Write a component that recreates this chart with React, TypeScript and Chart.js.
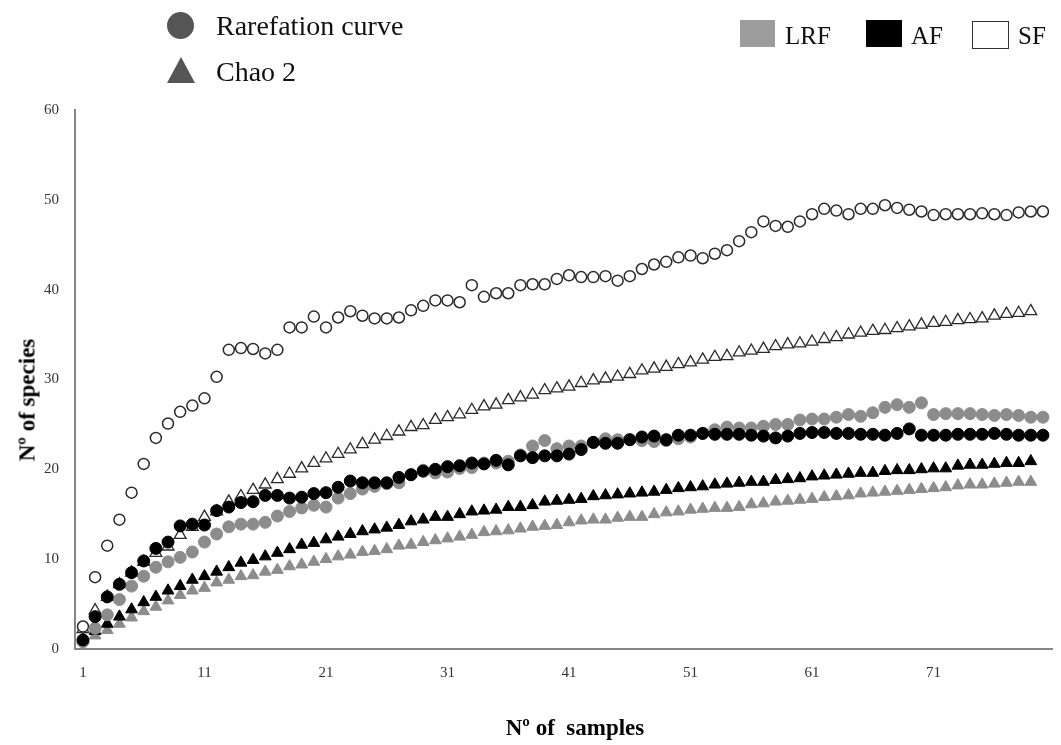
import React, { useEffect, useRef } from "react";
import { Chart, registerables } from "chart.js";

Chart.register(...registerables);

// Sample numbers are 1..80 (rarefaction) and 1..79 (Chao 2)
const xTickValues = [1, 11, 21, 31, 41, 51, 61, 71];
const yTickMax = 60;

const sfRare = [2.5, 8.0, 11.5, 14.4, 17.4, 20.6, 23.5, 25.1, 26.4, 27.1, 27.9, 30.3, 33.3, 33.5, 33.4, 32.9, 33.3, 35.8, 35.8, 37.0,
  35.8, 36.9, 37.6, 37.1, 36.8, 36.8, 36.9, 37.7, 38.2, 38.8, 38.8, 38.6, 40.5, 39.2, 39.6, 39.6, 40.5, 40.6, 40.6, 41.2,
  41.6, 41.4, 41.4, 41.5, 41.0, 41.5, 42.3, 42.8, 43.1, 43.6, 43.8, 43.5, 44.0, 44.4, 45.4, 46.4, 47.6, 47.1, 47.0, 47.6,
  48.4, 49.0, 48.8, 48.4, 49.0, 49.0, 49.4, 49.1, 48.9, 48.7, 48.3, 48.4, 48.4, 48.4, 48.5, 48.4, 48.3, 48.6, 48.7, 48.7];

const sfChao = [2.2, 4.3, 5.8, 7.2, 8.5, 9.7, 10.7, 11.4, 12.7, 13.6, 14.7, 15.3, 16.4, 17.0, 17.7, 18.3, 18.9, 19.5, 20.1, 20.7,
  21.2, 21.7, 22.2, 22.8, 23.3, 23.7, 24.2, 24.7, 24.9, 25.5, 25.8, 26.1, 26.6, 27.0, 27.2, 27.7, 28.0, 28.3, 28.8, 29.0,
  29.2, 29.6, 29.9, 30.1, 30.3, 30.6, 31.0, 31.2, 31.4, 31.7, 31.9, 32.2, 32.5, 32.6, 33.0, 33.2, 33.4, 33.7, 33.9, 34.0,
  34.2, 34.5, 34.7, 35.0, 35.2, 35.4, 35.5, 35.7, 35.9, 36.1, 36.3, 36.4, 36.6, 36.7, 36.8, 37.1, 37.3, 37.4, 37.6];

const afRare = [1.0, 3.6, 5.8, 7.2, 8.5, 9.8, 11.2, 11.9, 13.7, 13.9, 13.8, 15.4, 15.8, 16.3, 16.4, 17.1, 17.1, 16.8, 16.9, 17.3,
  17.4, 18.0, 18.7, 18.5, 18.5, 18.5, 19.1, 19.4, 19.8, 20.0, 20.3, 20.4, 20.7, 20.6, 21.0, 20.5, 21.5, 21.3, 21.5, 21.5,
  21.7, 22.2, 23.0, 22.9, 22.9, 23.3, 23.6, 23.7, 23.3, 23.8, 23.8, 24.0, 23.9, 23.9, 23.9, 23.8, 23.7, 23.5, 23.7, 24.0,
  24.1, 24.1, 24.0, 24.0, 23.9, 23.9, 23.8, 24.0, 24.5, 23.8, 23.8, 23.8, 23.9, 23.9, 23.9, 24.0, 23.9, 23.8, 23.8, 23.8];

const afChao = [1.0, 2.0, 2.8, 3.6, 4.4, 5.2, 5.8, 6.5, 7.0, 7.7, 8.1, 8.6, 9.1, 9.6, 9.9, 10.3, 10.7, 11.1, 11.6, 11.8,
  12.2, 12.5, 12.8, 13.1, 13.3, 13.5, 13.8, 14.2, 14.4, 14.7, 14.7, 15.0, 15.3, 15.4, 15.5, 15.8, 15.8, 16.0, 16.4, 16.5,
  16.6, 16.7, 17.0, 17.1, 17.2, 17.3, 17.4, 17.5, 17.7, 17.9, 18.0, 18.1, 18.3, 18.4, 18.5, 18.6, 18.6, 18.8, 18.9, 19.0,
  19.2, 19.3, 19.4, 19.5, 19.6, 19.6, 19.8, 19.9, 19.9, 20.0, 20.1, 20.1, 20.4, 20.5, 20.5, 20.6, 20.7, 20.7, 20.9];

const lrfRare = [0.8, 2.3, 3.8, 5.5, 7.0, 8.1, 9.1, 9.7, 10.2, 10.8, 11.9, 12.8, 13.6, 13.9, 13.9, 14.1, 14.8, 15.3, 15.7, 16.0,
  15.8, 16.8, 17.3, 17.8, 18.1, 18.4, 18.5, 19.4, 19.9, 19.6, 19.7, 20.1, 20.2, 20.7, 20.7, 20.9, 21.6, 22.6, 23.2, 22.3,
  22.6, 22.6, 23.0, 23.4, 23.3, 23.3, 23.2, 23.1, 23.2, 23.4, 23.6, 24.0, 24.4, 24.7, 24.6, 24.6, 24.8, 25.0, 25.0, 25.5,
  25.6, 25.6, 25.8, 26.1, 25.9, 26.3, 26.9, 27.2, 26.9, 27.4, 26.1, 26.2, 26.2, 26.2, 26.1, 26.0, 26.1, 26.0, 25.8, 25.8];

const lrfChao = [1.2, 1.5, 2.1, 2.8, 3.5, 4.2, 4.7, 5.4, 6.0, 6.5, 6.8, 7.4, 7.7, 8.1, 8.2, 8.6, 8.8, 9.2, 9.4, 9.7,
  10.0, 10.3, 10.5, 10.8, 10.9, 11.1, 11.5, 11.6, 11.9, 12.1, 12.3, 12.5, 12.7, 13.0, 13.1, 13.2, 13.4, 13.6, 13.7, 13.8,
  14.1, 14.3, 14.4, 14.4, 14.6, 14.7, 14.7, 15.0, 15.2, 15.3, 15.5, 15.6, 15.7, 15.7, 15.8, 16.1, 16.2, 16.4, 16.5, 16.6,
  16.7, 16.9, 17.0, 17.1, 17.3, 17.4, 17.5, 17.6, 17.7, 17.8, 17.9, 18.0, 18.2, 18.3, 18.3, 18.4, 18.5, 18.6, 18.6];

const GRAY = "#8c8c8c";
const BLACK = "#000000";
const OPEN_EDGE = "#2a2a2a";
const SERIF = '"Liberation Serif", "Times New Roman", serif';

const toPoints = (arr: number[]) => arr.map((v, i) => ({ x: i + 1, y: v }));

export default function App() {
  const canvasRef = useRef<HTMLCanvasElement | null>(null);

  useEffect(() => {
    const canvas = canvasRef.current;
    if (!canvas) return;
    const mk = (label: string, data: number[], style: string, fill: string, edge: string, radius: number, bw: number) => ({
      label,
      data: toPoints(data),
      showLine: false,
      pointStyle: style,
      pointRadius: radius,
      pointHoverRadius: radius,
      pointBackgroundColor: fill,
      pointBorderColor: edge,
      pointBorderWidth: bw,
      backgroundColor: fill,
      borderColor: edge,
    });
    const chart = new Chart(canvas, {
      type: "scatter",
      data: {
        datasets: [
          mk("AF rarefaction", afRare, "circle", BLACK, BLACK, 6, 1),
          mk("LRF rarefaction", lrfRare, "circle", GRAY, GRAY, 6, 1),
          mk("SF rarefaction", sfRare, "circle", "#ffffff", OPEN_EDGE, 5.5, 1.5),
          mk("AF Chao 2", afChao, "triangle", BLACK, BLACK, 6.8, 1),
          mk("LRF Chao 2", lrfChao, "triangle", GRAY, GRAY, 6.8, 1),
          mk("SF Chao 2", sfChao, "triangle", "#ffffff", OPEN_EDGE, 6.8, 1.3),
        ],
      },
      options: {
        animation: false,
        responsive: false,
        events: [],
        layout: { padding: { left: 0, right: 3, top: 110, bottom: 0 } },
        plugins: { legend: { display: false }, tooltip: { enabled: false }, title: { display: false } },
        scales: {
          x: {
            type: "linear",
            min: 0.345,
            max: 80.82,
            grid: { display: false, drawTicks: false },
            border: { display: true, color: "#858585", width: 2 },
            afterBuildTicks: (scale: any) => {
              scale.ticks = xTickValues.map((v) => ({ value: v }));
            },
            afterFit: (scale: any) => {
              scale.height = 96;
            },
            ticks: {
              autoSkip: false,
              maxRotation: 0,
              padding: 15,
              color: "#333",
              font: { family: SERIF, size: 15 },
              callback: (v: any) => String(v),
            },
          },
          y: {
            type: "linear",
            min: 0,
            max: yTickMax,
            grid: { display: false, drawTicks: false },
            border: { display: true, color: "#858585", width: 2 },
            afterFit: (scale: any) => {
              scale.width = 75;
            },
            ticks: {
              stepSize: 10,
              padding: 16,
              color: "#333",
              font: { family: SERIF, size: 15 },
            },
          },
        },
      },
    } as any);
    return () => chart.destroy();
  }, []);

  const txt = (size: number, bold = false): React.CSSProperties => ({
    position: "absolute",
    fontFamily: SERIF,
    fontSize: size,
    fontWeight: bold ? "bold" : "normal",
    lineHeight: 1,
    whiteSpace: "pre",
    color: "#111",
  });

  return (
    <div style={{ position: "absolute", left: 0, top: 0, width: 1061, height: 745, background: "#fff", overflow: "hidden" }}>
      <canvas ref={canvasRef} width={1061} height={745} style={{ position: "absolute", left: 0, top: 0 }} />
      {/* marker-type legend */}
      <div style={{ position: "absolute", left: 167, top: 12, width: 27, height: 27, borderRadius: "50%", background: "#555" }} />
      <div style={{ ...txt(28), left: 216, top: 12 }}>Rarefation curve</div>
      <div style={{ position: "absolute", left: 167, top: 57, width: 28, height: 26, background: "#555", clipPath: "polygon(50% 0, 100% 100%, 0 100%)" }} />
      <div style={{ ...txt(28), left: 216, top: 58 }}>Chao 2</div>
      {/* forest-type legend */}
      <div style={{ position: "absolute", left: 740, top: 20, width: 35, height: 27, background: "#9d9d9d" }} />
      <div style={{ ...txt(25), left: 785, top: 23 }}>LRF</div>
      <div style={{ position: "absolute", left: 866, top: 20, width: 36, height: 27, background: "#000" }} />
      <div style={{ ...txt(25), left: 911, top: 23 }}>AF</div>
      <div style={{ position: "absolute", left: 972, top: 21, width: 35, height: 26, background: "#fff", border: "1.5px solid #333" }} />
      <div style={{ ...txt(25), left: 1018, top: 23 }}>SF</div>
      {/* axis titles */}
      <div style={{ ...txt(23, true), left: 27, top: 400, transform: "translate(-50%, -50%) rotate(-90deg)", color: "#000" }}>Nº of species</div>
      <div style={{ ...txt(23, true), left: 575, top: 727, transform: "translate(-50%, -50%)", color: "#000" }}>Nº of  samples</div>
    </div>
  );
}
